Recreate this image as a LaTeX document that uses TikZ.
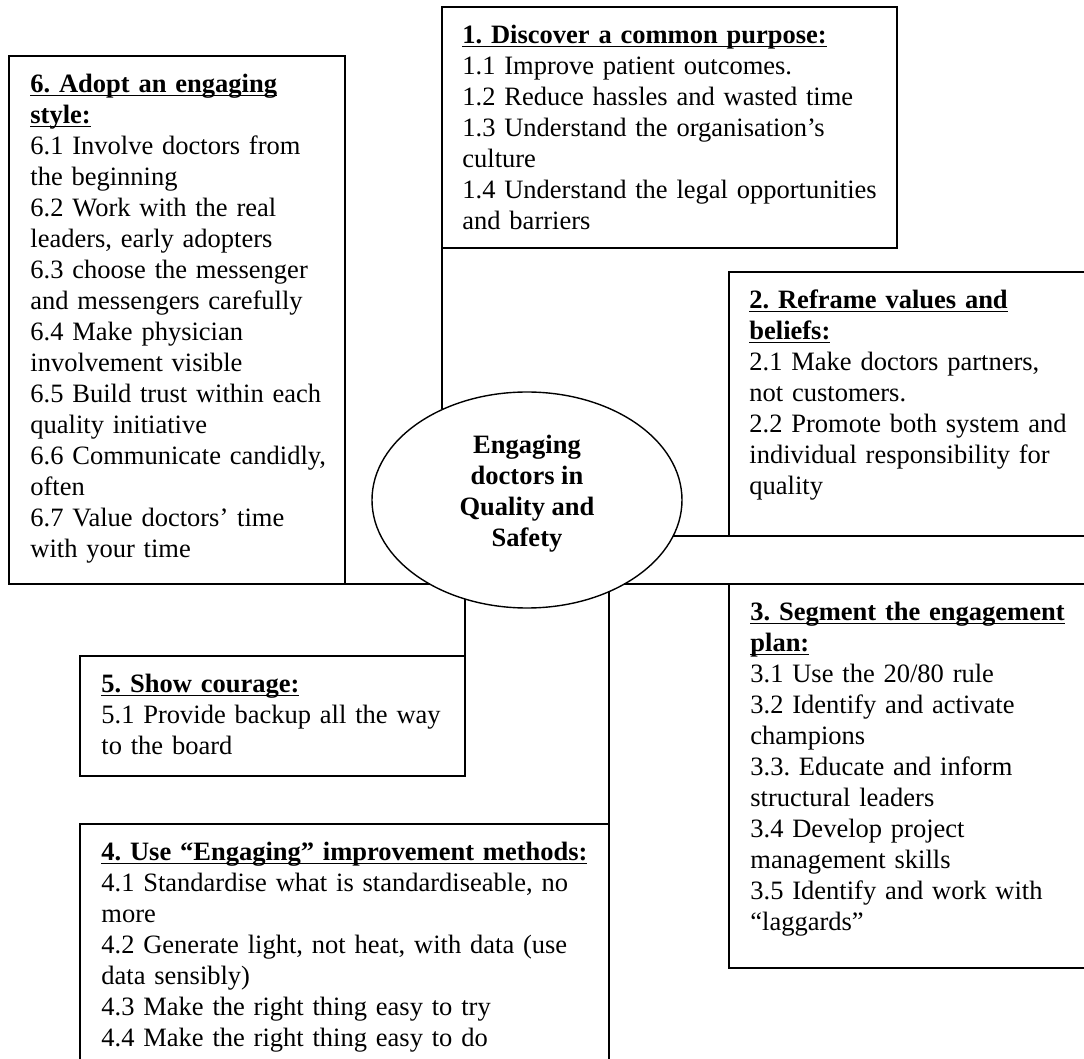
\documentclass[tikz,border=0pt]{standalone}
\usepackage{fontspec}
\setmainfont{Liberation Serif}
\usetikzlibrary{positioning,shapes.geometric}

\newcommand\panelfont{\fontsize{13.25}{15.5}\selectfont\frenchspacing}
\newcommand\ulhead[1]{\leavevmode\setbox0\hbox{\bfseries #1}\rlap{\vrule height -0.08em depth 0.15em width \wd0}\box0}

\begin{document}
\begin{tikzpicture}[x=0.5pt, y=-0.5pt,
         panel/.style={draw, line width=0.9pt, inner sep=0pt, outer sep=0pt,
                       anchor=north west},
         paneltext/.style={inner sep=0pt, anchor=north west, text width=260pt,
                           align=left, font=\panelfont},
         hub/.style={draw, ellipse, fill=white, line width=0.7pt,
                     inner sep=0pt, outer sep=0pt,
                     minimum width=155pt, minimum height=108pt},
         hubtext/.style={inner sep=0pt, align=center, font=\panelfont\bfseries},
         link/.style={line width=0.9pt},
         ]
\useasboundingbox (0,0) rectangle (1084,1059);
\clip (0,0) rectangle (1084,1059);

% the six boxes
\node [panel, minimum width=227.5pt, minimum height=120.5pt] (box1) at (442,7) {};
\node [panel, minimum width=185.5pt, minimum height=132pt]   (box2) at (729,272) {};
\node [panel, minimum width=185.5pt, minimum height=192pt]   (box3) at (729,584) {};
\node [panel, minimum width=264.5pt, minimum height=128pt]   (box4) at (80,824) {};
\node [panel, minimum width=192.5pt, minimum height=60pt]    (box5) at (80,656) {};
\node [panel, minimum width=168pt,   minimum height=264pt]   (box6) at (9,56) {};

\node [paneltext, below right=7.15pt and 10pt of box1.north west] (text1)
{\strut\ulhead{1. Discover a common purpose:}\\
1.1 Improve patient outcomes.\\
1.2 Reduce hassles and wasted time\\
1.3 Understand the organisation’s\\
culture\\
1.4 Understand the legal opportunities\\
and barriers};

\node [paneltext, below right=7.15pt and 10pt of box2.north west] (text2)
{\strut\ulhead{2. Reframe values and}\\
\ulhead{beliefs:}\\
2.1 Make doctors partners,\\
not customers.\\
2.2 Promote both system and\\
individual responsibility for\\
quality};

\node [paneltext, below right=7.15pt and 10.5pt of box3.north west] (text3)
{\strut\ulhead{3. Segment the engagement}\\
\ulhead{plan:}\\
3.1 Use the 20/80 rule\\
3.2 Identify and activate\\
champions\\
3.3. Educate and inform\\
structural leaders\\
3.4 Develop project\\
management skills\\
3.5 Identify and work with\\
“laggards”};

\node [paneltext, below right=7.15pt and 10.5pt of box4.north west] (text4)
{\strut\ulhead{4. Use “Engaging” improvement methods:}\\
4.1 Standardise what is standardiseable, no\\
more\\
4.2 Generate light, not heat, with data (use\\
data sensibly)\\
4.3 Make the right thing easy to try\\
4.4 Make the right thing easy to do};

\node [paneltext, below right=7.15pt and 10.5pt of box5.north west] (text5)
{\strut\ulhead{5. Show courage:}\\
5.1 Provide backup all the way\\
to the board};

\node [paneltext, below right=7.15pt and 10.5pt of box6.north west] (text6)
{\strut\ulhead{6. Adopt an engaging}\\
\ulhead{style:}\\
6.1 Involve doctors from\\
the beginning\\
6.2 Work with the real\\
leaders, early adopters\\
6.3 choose the messenger\\
and messengers carefully\\
6.4 Make physician\\
involvement visible\\
6.5 Build trust within each\\
quality initiative\\
6.6 Communicate candidly,\\
often\\
6.7 Value doctors’ time\\
with your time};

% centre
\node [hub] (core) at (527,500) {};
\node [hubtext, yshift=3pt] (corelabel) at (core) {Engaging\\doctors in\\Quality and\\Safety};

% box edges running on to the ellipse
\draw [link] (box1.south west) -- (box1.south west |- core.133);
\draw [link] (box2.south west) -- (box2.south west -| core.346);
\draw [link] (box3.north west) -- (box3.north west -| core.319);
\draw [link] (box6.south east) -- (box6.south east -| core.221);
\draw [link] (box5.north east) -- (box5.north east |- core.238);
\draw [link] (box4.north east) -- (box4.north east |- core.312);
\end{tikzpicture}
\end{document}
